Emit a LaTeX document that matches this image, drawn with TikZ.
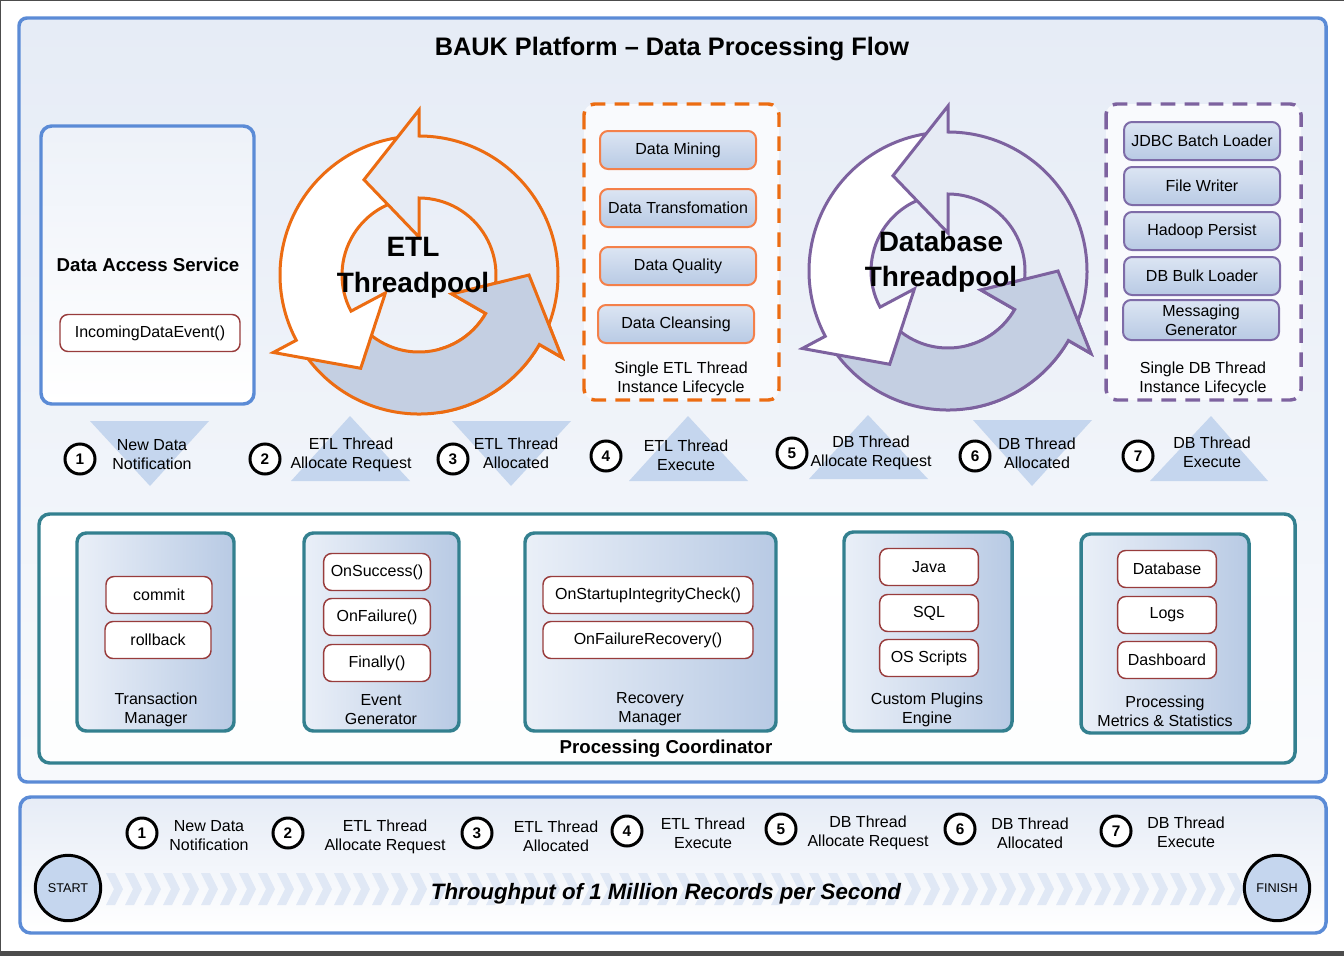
\documentclass[tikz,border=0pt]{standalone}
\usepackage{fontspec}
\setmainfont{Liberation Sans}
\definecolor{frameblue}{HTML}{5B8BD6}
\definecolor{panelblue}{HTML}{E6ECF6}
\definecolor{etlorange}{HTML}{EC6C12}
\definecolor{boxorange}{HTML}{F4804A}
\definecolor{dbpurple}{HTML}{7D629F}
\definecolor{boxpurple}{HTML}{7E6CA8}
\definecolor{coordteal}{HTML}{33808F}
\definecolor{methodred}{HTML}{983C3C}
\definecolor{ringlight}{HTML}{E6EBF4}
\definecolor{ringdark}{HTML}{C4CFE2}
\definecolor{cardtop}{HTML}{DCE5F3}
\definecolor{cardbottom}{HTML}{B8CAE4}
\definecolor{stepblue}{HTML}{C5D6EE}
\definecolor{chevronblue}{HTML}{E0E8F5}

\begin{document}
\begin{tikzpicture}[x=0.75pt, y=-0.75pt,
    lbl/.style={align=center, font=\fontsize{12}{14.25}\selectfont, inner sep=0pt, yshift=-1.8pt},
    stepnum/.style={circle, draw=black, line width=2.25pt, fill=white, minimum size=22.5pt, inner sep=0pt, font=\bfseries\fontsize{11.5}{12}\selectfont},
    card/.style={rounded corners=6pt, line width=1.5pt, top color=cardtop, bottom color=cardbottom, minimum width=117pt, minimum height=28.5pt, align=center, inner sep=1pt, font=\fontsize{12}{14.25}\selectfont},
    etlcard/.style={card, draw=boxorange},
    dbcard/.style={card, draw=boxpurple},
    method/.style={draw=methodred, line width=1.1pt, rounded corners=6pt, fill=white, minimum height=27.75pt, font=\fontsize{12}{14.25}\selectfont},
    module/.style={draw=coordteal, line width=2.6pt, rounded corners=7pt, left color=cardtop!60!white, right color=cardbottom},
    ring/.style={line width=2.25pt, line join=miter},
    heading/.style={font=\bfseries\fontsize{14}{17}\selectfont},
    endpoint/.style={circle, draw=black, line width=2.25pt, fill=stepblue, minimum size=49pt, inner sep=0pt, font=\fontsize{9.5}{11}\selectfont}]
    \useasboundingbox (0,0) rectangle (1344,956);
    \fill[white] (0,0) rectangle (1344,956);
    \draw[black!70, line width=0.75pt] (0.5,952) -- (0.5,0.5) -- (1344,0.5);
    \fill[black!70] (0,951) rectangle (1344,956);

    % main panel
    \draw[frameblue, line width=2.6pt, rounded corners=6pt, top color=panelblue, bottom color=panelblue!30!white] (19,18) rectangle (1326,782);
    \node[font=\bfseries\fontsize{19}{23}\selectfont] (title) at (672,49) {BAUK Platform – Data Processing Flow};

    \draw[frameblue, line width=2.6pt, rounded corners=8pt, top color=panelblue!70!white, bottom color=white] (41,126) rectangle (254,404);
    \node[heading] (das) at (148,265) {Data Access Service};
    \node[method, minimum width=135pt] (incoming) at (150,333) {IncomingDataEvent()};

    % ETL threadpool
    \begin{scope}[shift={(419,275)}, yscale=-1]
        \foreach \a/\b/\col in {213/330/ringdark, 95/208/white, 335/450/ringlight}
            \draw[ring, draw=etlorange, fill=\col] (\a:139) arc[start angle=\a, end angle=\b, radius=139] -- (\b:165) -- ({\b+30}:110) -- (\b:38) -- (\b:77) arc[start angle=\b, end angle=\a, radius=77] -- cycle;
        \begin{scope}
            \clip (20,-200) rectangle (200,30);
            \draw[ring, draw=etlorange, fill=ringdark] (213:139) arc[start angle=213, end angle=330, radius=139] -- (330:165) -- (360:110) -- (330:38) -- (330:77) arc[start angle=330, end angle=213, radius=77] -- cycle;
        \end{scope}
    \end{scope}
    \node[align=center, font=\bfseries\fontsize{21}{27}\selectfont] (etlpool) at (413,268) {ETL\\Threadpool};

    \draw[etlorange, line width=2.6pt, dash pattern=on 11pt off 7pt, rounded corners=8pt, fill=white!75!panelblue] (584,104) rectangle (779,400);
    \node[etlcard] (mining) at (678,150) {Data Mining};
    \node[etlcard] (transform) at (678,208) {Data Transfomation};
    \node[etlcard] (quality) at (678,266) {Data Quality};
    \node[etlcard] (cleansing) at (676,324) {Data Cleansing};
    \node[lbl] (etllife) at (681,376) {Single ETL Thread\\Instance Lifecycle};

    % DB threadpool
    \begin{scope}[shift={(948,271)}, yscale=-1]
        \foreach \a/\b/\col in {213/330/ringdark, 95/208/white, 335/450/ringlight}
            \draw[ring, draw=dbpurple, fill=\col] (\a:139) arc[start angle=\a, end angle=\b, radius=139] -- (\b:165) -- ({\b+30}:110) -- (\b:38) -- (\b:77) arc[start angle=\b, end angle=\a, radius=77] -- cycle;
        \begin{scope}
            \clip (20,-200) rectangle (200,30);
            \draw[ring, draw=dbpurple, fill=ringdark] (213:139) arc[start angle=213, end angle=330, radius=139] -- (330:165) -- (360:110) -- (330:38) -- (330:77) arc[start angle=330, end angle=213, radius=77] -- cycle;
        \end{scope}
    \end{scope}
    \node[align=center, font=\bfseries\fontsize{21}{26}\selectfont] (dbpool) at (941,262) {Database\\Threadpool};

    \draw[dbpurple, line width=2.6pt, dash pattern=on 11pt off 7pt, rounded corners=8pt, fill=white!75!panelblue] (1106,104) rectangle (1301,400);
    \node[dbcard] (jdbc) at (1202,141) {JDBC Batch Loader};
    \node[dbcard] (filewriter) at (1202,186) {File Writer};
    \node[dbcard] (hadoop) at (1202,231) {Hadoop Persist};
    \node[dbcard] (bulkloader) at (1202,276) {DB Bulk Loader};
    \node[dbcard, minimum height=30pt, inner sep=0pt] (messaging) at (1201,320) {Messaging\\Generator};
    \node[lbl] (dblife) at (1203,376) {Single DB Thread\\Instance Lifecycle};

    % steps
    \fill[stepblue] (90,421) -- (209,421) -- (150,486) -- cycle;
    \fill[stepblue] (291,481) -- (410,481) -- (350,416) -- cycle;
    \fill[stepblue] (452,421) -- (571,421) -- (511,486) -- cycle;
    \fill[stepblue] (629,481) -- (748,481) -- (688,416) -- cycle;
    \fill[stepblue] (809,479) -- (928,479) -- (868,415) -- cycle;
    \fill[stepblue] (973,420) -- (1092,420) -- (1032,486) -- cycle;
    \fill[stepblue] (1150,481) -- (1268,481) -- (1211,416) -- cycle;
    \foreach \n/\cx/\cy/\tx/\ty/\txt in {1/80/459/152/452/New Data\\Notification, 2/265/459/351/452/ETL Thread\\Allocate Request, 3/453/459/516/451/ETL Thread\\Allocated, 4/606/456/686/453/ETL Thread\\Execute, 5/792/453/871/450/DB Thread\\Allocate Request, 6/975/456/1037/451/DB Thread\\Allocated, 7/1138/456/1212/450/DB Thread\\Execute} {
        \node[stepnum] (s\n) at (\cx,\cy) {\n};
        \node[lbl] (t\n) at (\tx,\ty) {\txt};
    }

    % processing coordinator
    \draw[coordteal, line width=2.6pt, rounded corners=8pt, top color=white, bottom color=white!92!panelblue] (39,514) rectangle (1295,763);
    \node[heading] (coordlabel) at (666,749) {Processing Coordinator};
    \draw[module] (77,533) rectangle (234,731);
    \draw[module] (304,533) rectangle (459,731);
    \draw[module] (525,533) rectangle (776,731);
    \draw[module] (844,532) rectangle (1012,731);
    \draw[module] (1081,534) rectangle (1249,733);

    \node[method, minimum width=79.5pt] (commit) at (159,595) {commit};
    \node[method, minimum width=79.5pt] (rollback) at (158,640) {rollback};
    \node[lbl] (txlabel) at (156,707) {Transaction\\Manager};

    \node[method, minimum width=80pt] (onsuccess) at (377,572) {OnSuccess()};
    \node[method, minimum width=80pt] (onfailure) at (377,617) {OnFailure()};
    \node[method, minimum width=80pt] (finally) at (377,663) {Finally()};
    \node[lbl] (evlabel) at (381,707) {Event\\Generator};

    \node[method, minimum width=157.5pt] (startupcheck) at (648,595) {OnStartupIntegrityCheck()};
    \node[method, minimum width=157.5pt] (failrecovery) at (648,640) {OnFailureRecovery()};
    \node[lbl] (reclabel) at (650,707) {Recovery\\Manager};

    \node[method, minimum width=74pt] (java) at (929,567) {Java};
    \node[method, minimum width=74pt] (sql) at (929,613) {SQL};
    \node[method, minimum width=74pt] (osscripts) at (929,658) {OS Scripts};
    \node[lbl] (pluglabel) at (927,707) {Custom Plugins\\Engine};

    \node[method, minimum width=74pt] (dbstore) at (1167,569) {Database};
    \node[method, minimum width=74pt] (logs) at (1167,615) {Logs};
    \node[method, minimum width=74pt] (dashboard) at (1167,660) {Dashboard};
    \node[lbl] (metlabel) at (1165,709) {Processing\\Metrics \& Statistics};

    % throughput strip
    \draw[frameblue, line width=2.6pt, rounded corners=8pt, top color=panelblue, bottom color=white] (20,797) rectangle (1326,933);
    \foreach \i in {0,...,59}
        \fill[chevronblue] ({106+19*\i},873) -- ++(9,0) -- ++(8,16) -- ++(-8,16) -- ++(-9,0) -- ++(8,-16) -- cycle;
    \node[endpoint] (start) at (68,888) {START};
    \node[endpoint] (finish) at (1277,888) {FINISH};
    \node[font=\bfseries\itshape\fontsize{16.7}{20}\selectfont] (throughput) at (666,894) {Throughput of 1 Million Records per Second};
    \foreach \n/\cx/\cy/\tx/\ty/\txt in {1/142/833/209/833/New Data\\Notification, 2/288/833/385/834/ETL Thread\\Allocate Request, 3/477/833/556/834/ETL Thread\\Allocated, 4/627/831/703/831/ETL Thread\\Execute, 5/781/829/868/830/DB Thread\\Allocate Request, 6/960/829/1030/831/DB Thread\\Allocated, 7/1116/831/1186/830/DB Thread\\Execute} {
        \node[stepnum] (b\n) at (\cx,\cy) {\n};
        \node[lbl] (bt\n) at (\tx,\ty) {\txt};
    }
\end{tikzpicture}
\end{document}
